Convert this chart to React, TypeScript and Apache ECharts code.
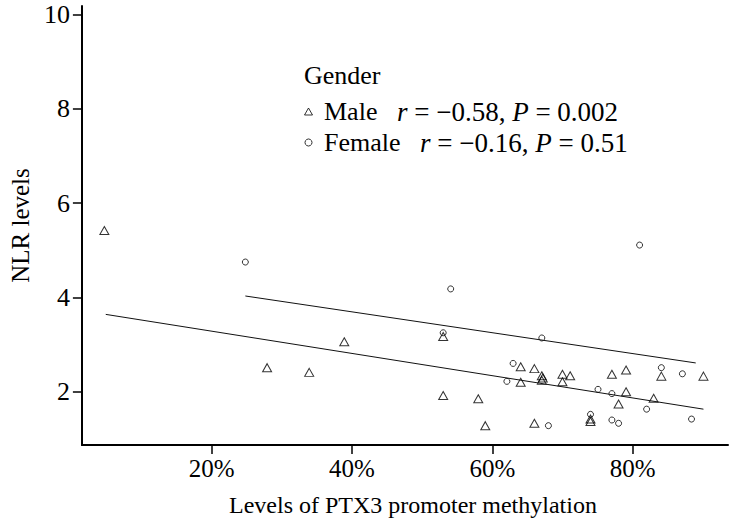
import React, { useEffect, useRef } from "react";
import * as echarts from "echarts";

// Male data: [methylation %, NLR]
const maleX = [4.7, 27.9, 33.9, 38.9, 53.0, 53.0, 58.0, 59.0, 64.05, 66.0, 64.05, 67.06, 67.06, 67.2, 66.0, 70.0, 71.1, 70.0, 74.0, 74.0, 77.05, 79.07, 79.07, 78.0, 83.0, 84.1, 90.1];
const maleY = [5.42, 2.51, 2.41, 3.06, 1.92, 3.17, 1.85, 1.28, 2.53, 2.49, 2.2, 2.34, 2.24, 2.29, 1.33, 2.37, 2.34, 2.21, 1.42, 1.37, 2.37, 2.46, 2.0, 1.74, 1.86, 2.33, 2.33];

const femaleX = [24.8, 54.07, 81.0, 53.0, 67.06, 62.97, 62.08, 68.0, 75.07, 77.05, 77.05, 78.0, 82.0, 84.1, 87.1, 88.4, 74.0];
const femaleY = [4.75, 4.18, 5.11, 3.25, 3.14, 2.6, 2.22, 1.28, 2.05, 1.96, 1.4, 1.33, 1.63, 2.51, 2.38, 1.42, 1.52];

// Fitted regression line endpoints
const maleFitX = [4.9, 90.1];
const maleFitY = [3.64, 1.63];
const femaleFitX = [24.8, 89.0];
const femaleFitY = [4.03, 2.61];

const xTicks = [20, 40, 60, 80];
const yTicks = [2, 4, 6, 8, 10];

const legendTitle = "Gender";
const maleStat = { r: "−0.58", p: "0.002" };
const femaleStat = { r: "−0.16", p: "0.51" };

const FONT = "'Liberation Serif', 'Times New Roman', serif";
const FS = 26;

export default function App() {
  const ref = useRef<HTMLDivElement>(null);
  useEffect(() => {
    if (!ref.current) return;
    const chart = echarts.init(ref.current, undefined, { renderer: "svg" });
    const zip = (xs: number[], ys: number[]) => xs.map((x, i) => [x, ys[i]]);
    chart.setOption({
      animation: false,
      backgroundColor: "#fff",
      textStyle: { fontFamily: FONT, color: "#000" },
      grid: { left: 76, right: 6, top: 6, bottom: 81, containLabel: false },
      title: {
        text: legendTitle,
        left: 299,
        top: 57,
        textStyle: { fontFamily: FONT, fontSize: FS, fontWeight: "normal", color: "#000" },
      },
      legend: {
        orient: "vertical",
        left: 304,
        top: 98,
        padding: 0,
        itemGap: 4,
        itemWidth: 8,
        itemHeight: 7,
        textStyle: {
          fontFamily: FONT,
          fontSize: FS,
          color: "#000",
          rich: {
            n: { fontFamily: FONT, fontSize: FS, color: "#000" },
            s: { fontFamily: FONT, fontSize: 27, color: "#000" },
            i: { fontFamily: FONT, fontSize: 27, fontStyle: "italic", color: "#000" },
          },
        },
        formatter: (name: string) => {
          const s = name === "Male" ? maleStat : femaleStat;
          return `{n| ${name}   }{i|r}{s| = ${s.r}, }{i|P}{s| = ${s.p}}`;
        },
        data: [
          { name: "Male", icon: "triangle", itemStyle: { color: "transparent", borderColor: "#000", borderWidth: 1 } },
          { name: "Female", icon: "circle", itemStyle: { color: "transparent", borderColor: "#000", borderWidth: 1 } },
        ],
      },
      xAxis: {
        type: "value",
        min: 1.5,
        max: 93.6,
        name: "Levels of PTX3 promoter methylation",
        nameLocation: "middle",
        nameGap: 48,
        nameTextStyle: { fontFamily: FONT, fontSize: 24, color: "#000", padding: [0, 0, 0, 16] },
        splitLine: { show: false },
        axisLine: { lineStyle: { color: "#000", width: 2 } },
        axisTick: { length: 9, lineStyle: { color: "#000", width: 1.5 }, customValues: xTicks },
        axisLabel: {
          customValues: xTicks,
          formatter: (v: number) => `${v}%`,
          fontFamily: FONT,
          fontSize: 25,
          color: "#000",
          margin: 11,
        },
      },
      yAxis: {
        type: "value",
        min: 0.87,
        max: 10.18,
        name: "NLR levels",
        nameLocation: "middle",
        nameGap: 42,
        nameTextStyle: { fontFamily: FONT, fontSize: 25, color: "#000" },
        splitLine: { show: false },
        axisLine: { show: true, lineStyle: { color: "#000", width: 2 } },
        axisTick: { show: true, length: 9, lineStyle: { color: "#000", width: 1.5 }, customValues: yTicks },
        axisLabel: {
          customValues: yTicks,
          fontFamily: FONT,
          fontSize: FS,
          color: "#000",
          margin: 12,
        },
      },
      series: [
        {
          name: "Male",
          type: "scatter",
          symbol: "triangle",
          symbolSize: [9, 8],
          itemStyle: { color: "transparent", borderColor: "#000", borderWidth: 1 },
          data: zip(maleX, maleY),
        },
        {
          name: "Female",
          type: "scatter",
          symbol: "circle",
          symbolSize: 6,
          itemStyle: { color: "transparent", borderColor: "#000", borderWidth: 1 },
          data: zip(femaleX, femaleY),
        },
        {
          name: "MaleFit",
          type: "line",
          showSymbol: false,
          symbol: "none",
          lineStyle: { color: "#111", width: 1 },
          data: zip(maleFitX, maleFitY),
        },
        {
          name: "FemaleFit",
          type: "line",
          showSymbol: false,
          symbol: "none",
          lineStyle: { color: "#111", width: 1 },
          data: zip(femaleFitX, femaleFitY),
        },
      ],
    });
    return () => chart.dispose();
  }, []);
  return <div ref={ref} style={{ width: 734, height: 526, position: "absolute", left: 0, top: 0 }} />;
}
